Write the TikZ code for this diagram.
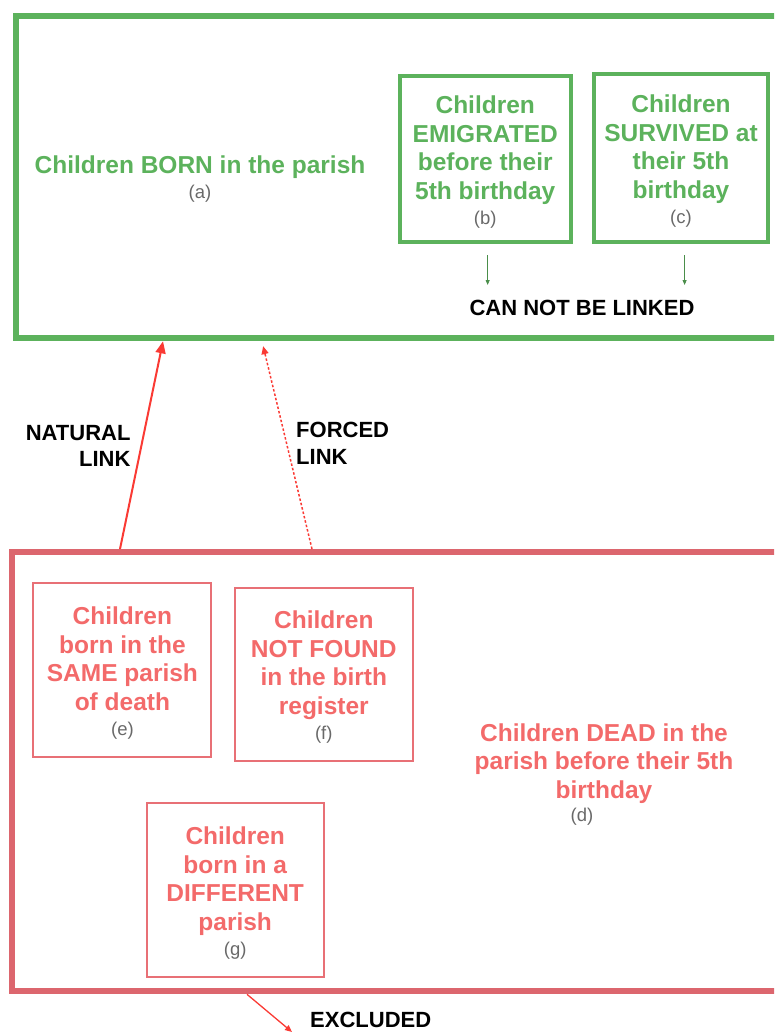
\documentclass[tikz,border=0pt]{standalone}
\usepackage{fontspec}
\setmainfont{Liberation Sans}
\usetikzlibrary{arrows.meta,calc}
\definecolor{grn}{RGB}{92,178,92}
\definecolor{grntxt}{RGB}{92,178,92}
\definecolor{redbox}{RGB}{220,102,110}
\definecolor{redinner}{RGB}{232,112,118}
\definecolor{redtxt}{RGB}{243,106,106}
\definecolor{arr}{RGB}{250,58,52}
\definecolor{lab}{RGB}{105,105,105}
\newcommand\bigtxt{\fontsize{24.5}{28.5}\selectfont\bfseries}
\newcommand\labtxt{\fontsize{18.5}{22}\selectfont\mdseries\color{lab}}
\newcommand\blktxt{\fontsize{22}{26}\selectfont\bfseries}
\newcommand\tstrut{\rule{0pt}{24pt}}
\begin{document}
\begin{tikzpicture}[x=1pt,y=-1pt,
  outerG/.style={draw=grn, line width=6pt, inner sep=0pt},
  outerR/.style={draw=redbox, line width=6pt, inner sep=0pt},
  innerG/.style={draw=grn, line width=4pt, align=center, text=grntxt, font=\bigtxt, inner sep=0pt},
  innerR/.style={draw=redinner, line width=2pt, align=center, text=redtxt, font=\bigtxt, inner sep=0pt},
  gtext/.style={align=center, text=grntxt, font=\bigtxt, inner sep=0pt},
  rtext/.style={align=center, text=redtxt, font=\bigtxt, inner sep=0pt},
  glabel/.style={font=\labtxt, inner sep=0pt},
  blk/.style={font=\blktxt, inner sep=0pt, text=black},
  natarrow/.style={draw=arr, line width=2pt, -{Triangle[length=12pt,width=10pt]}},
  forcedarrow/.style={draw=arr, line width=1.5pt, dash pattern=on 2.5pt off 2pt, -{Triangle[length=8pt,width=7pt]}},
  exclarrow/.style={draw=arr, line width=1.3pt, -{Triangle[length=7pt,width=6pt]}},
  grnarrow/.style={draw=grn!80!black, line width=0.8pt, -{Triangle[length=5pt,width=4pt]}}
]
\useasboundingbox (0,0) rectangle (774,1032);
\clip (0,0) rectangle (774,1032);

% Green region: children born
\node[outerG, minimum width=783.7pt, minimum height=322pt] (born) at (408.15,177.3) {};
\node[gtext] (bornText) at (200,179.4) {Children BORN in the parish\\[-3.7pt]{\labtxt (a)}};

\node[innerG, minimum width=170.5pt, minimum height=166pt] (emig) at (485.25,159)
  {\tstrut Children\\EMIGRATED\\before their\\5th birthday\\[-3pt]{\labtxt (b)}};
\node[innerG, minimum width=174pt, minimum height=168pt] (surv) at (681,158)
  {\tstrut Children\\SURVIVED at\\their 5th\\birthday\\[-3pt]{\labtxt (c)}};

\node[blk, anchor=base] (cannot) at (582,315) {CAN NOT BE LINKED};
\draw[grnarrow] ([xshift=2.4pt,yshift=-11pt]emig.south) -- ([xshift=2.4pt,yshift=-285pt]emig.south |- 0,0);
\draw[grnarrow] ([xshift=3.6pt,yshift=-11pt]surv.south) -- ([xshift=3.6pt,yshift=-285pt]surv.south |- 0,0);

% Red region: children dead
\node[outerR, minimum width=788pt, minimum height=439.3pt] (dead) at (406,771.65) {};
\node[rtext] (deadText) at (604,763.6) {Children DEAD in the\\parish before their 5th\\birthday};
\node[glabel] (deadLab) at (582,817) {(d)};

\node[innerR, minimum width=178pt, minimum height=173.7pt] (same) at (122.4,670.2)
  {\tstrut Children\\born in the\\SAME parish\\of death\\[-3pt]{\labtxt (e)}};
\node[innerR, minimum width=177.6pt, minimum height=173pt] (notf) at (323.8,674.2)
  {\tstrut Children\\NOT FOUND\\in the birth\\register\\[-3pt]{\labtxt (f)}};
\node[innerR, minimum width=177.2pt, minimum height=173.4pt] (diff) at (235.2,890)
  {\tstrut Children\\born in a\\DIFFERENT\\parish\\[-3pt]{\labtxt (g)}};

% Links
\coordinate (natTail) at (120,0);
\coordinate (natHead) at (163,0);
\coordinate (forTail) at (312,0);
\coordinate (forHead) at (262,0);
\draw[natarrow] (dead.north -| natTail) -- (born.south -| natHead);
\draw[forcedarrow, shorten >=5pt] (dead.north -| forTail) -- (born.south -| forHead);

\node[blk, align=right, anchor=north east, font=\fontsize{22}{25.7}\selectfont\bfseries] (natLab) at (130.7,425.2) {NATURAL\\LINK};
\node[blk, align=left, anchor=north west, font=\fontsize{22}{26.7}\selectfont\bfseries] (forLab) at (296,422) {FORCED\\LINK};

% Excluded
\node[blk, anchor=base west] (excl) at (310,1027.5) {EXCLUDED};
\coordinate (exclTail) at (247,0);
\coordinate (exclHead) at (292,1032);
\draw[exclarrow] (dead.south -| exclTail) -- (exclHead);
\end{tikzpicture}
\end{document}
